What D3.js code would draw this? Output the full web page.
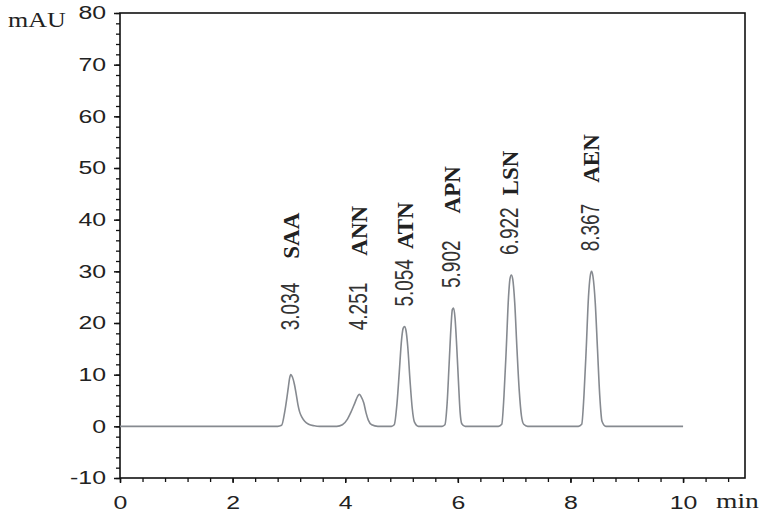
<!DOCTYPE html>
<html>
<head>
<meta charset="utf-8">
<script src="https://cdn.jsdelivr.net/npm/d3@7"></script>
<style>
  body { margin: 0; background: #fff; }
</style>
</head>
<body>
<div id="chart"></div>
<script>
// chromatogram trace: time (min) and signal (mAU)
const traceTime = [
  0, 2.80,
  2.87, 2.93, 2.99, 3.01, 3.034, 3.06, 3.10, 3.13, 3.16, 3.19, 3.23, 3.28, 3.35, 3.45, 3.55,
  3.85, 3.95, 4.04, 4.10, 4.17, 4.22, 4.251, 4.28, 4.33, 4.37, 4.41, 4.47, 4.58,
  4.82, 4.87, 4.92, 4.96, 5.00, 5.03, 5.054, 5.08, 5.11, 5.15, 5.19, 5.23, 5.30,
  5.72, 5.77, 5.81, 5.845, 5.88, 5.902, 5.925, 5.95, 5.98, 6.01, 6.04, 6.07, 6.13,
  6.72, 6.78, 6.82, 6.86, 6.90, 6.925, 6.95, 6.975, 7.01, 7.05, 7.09, 7.13, 7.17, 7.24,
  8.14, 8.20, 8.24, 8.28, 8.32, 8.35, 8.375, 8.40, 8.44, 8.48, 8.52, 8.56, 8.63,
  10
]
const traceSignal = [
  0, 0,
  0.2, 3.1, 7.6, 9.2, 10.0, 9.6, 8.0, 6.2, 4.2, 2.8, 1.8, 1.0, 0.4, 0.1, 0,
  0, 0.3, 1.4, 2.7, 4.5, 5.8, 6.2, 5.8, 4.5, 2.6, 1.2, 0.3, 0,
  0, 0.3, 4.5, 10.5, 16.7, 19.0, 19.3, 18.5, 15.5, 9.0, 3.5, 0.8, 0,
  0, 0.3, 4.5, 12.0, 19.5, 22.6, 22.9, 21.0, 15.5, 8.9, 2.8, 0.5, 0,
  0, 0.4, 6, 15, 25, 28.5, 29.3, 28.5, 24, 15, 7, 2, 0.4, 0,
  0, 0.4, 6, 15, 25, 29, 30.0, 29, 24, 15, 6, 1, 0,
  0
]

// peak annotations
const peakTimes = [3.034, 4.251, 5.054, 5.902, 6.922, 8.367]
const peakHeights = [10.0, 6.2, 19.3, 22.9, 29.3, 30.0]
const peakLabels = ["3.034", "4.251", "5.054", "5.902", "6.922", "8.367"]
const peakNames = ["SAA", "ANN", "ATN", "APN", "LSN", "AEN"]
// pixel gap between the time label and the compound name
const nameGaps = [24, 27, 10, 27, 12, 21]

// tick values
const xTicks = [0, 2, 4, 6, 8, 10]
const yTicks = [-10, 0, 10, 20, 30, 40, 50, 60, 70, 80]

const width = 762
const height = 513
const margin = {top: 13, right: 17, bottom: 35, left: 120}
const stretch = 1.38  // the picture's glyphs are wider than tall

const svg = d3.select("#chart")
  .append("svg")
  .attr("width", width)
  .attr("height", height)

const xScale = d3.scaleLinear()
  .domain([0, 11.1])
  .range([margin.left, width - margin.right])

const yScale = d3.scaleLinear()
  .domain([-10, 80])
  .range([height - margin.bottom, margin.top])

// minor ticks every 0.4 min and every 2 mAU
const xMinor = d3.range(0, 11.01, 0.4).map(d => +d.toFixed(1))
const yMinor = d3.range(-10, 80.01, 2)

svg.append("g")
  .attr("transform", `translate(0, ${yScale(-10)})`)
  .call(d3.axisBottom(xScale).tickValues(xMinor).tickSize(4).tickFormat(""))
  .call(g => g.select(".domain").remove())
  .call(g => g.selectAll("line").attr("stroke", "#111").attr("stroke-width", 1.3))

svg.append("g")
  .attr("transform", `translate(${xScale(0)}, 0)`)
  .call(d3.axisLeft(yScale).tickValues(yMinor).tickSize(4).tickFormat(""))
  .call(g => g.select(".domain").remove())
  .call(g => g.selectAll("line").attr("stroke", "#111").attr("stroke-width", 1.3))

// major axes
const xAxis = d3.axisBottom(xScale)
  .tickValues(xTicks)
  .tickSize(5)
  .tickPadding(13)
  .tickFormat(d => String(d))

const yAxis = d3.axisLeft(yScale)
  .tickValues(yTicks)
  .tickSize(6)
  .tickPadding(6)
  .tickFormat(d => String(d))

svg.append("g")
  .attr("transform", `translate(0, ${yScale(-10)})`)
  .call(xAxis)
  .call(g => g.select(".domain").remove())
  .call(g => g.selectAll("line").attr("stroke", "#111").attr("stroke-width", 1.5))
  .call(g => g.selectAll("text")
    .attr("font-family", "'Liberation Sans', Arial, sans-serif")
    .attr("font-size", 18)
    .attr("fill", "#222")
    .attr("transform", `scale(${stretch}, 1)`))

svg.append("g")
  .attr("transform", `translate(${xScale(0)}, 0)`)
  .call(yAxis)
  .call(g => g.select(".domain").remove())
  .call(g => g.selectAll("line").attr("stroke", "#111").attr("stroke-width", 1.5))
  .call(g => g.selectAll("text")
    .attr("font-family", "'Liberation Sans', Arial, sans-serif")
    .attr("font-size", 18)
    .attr("fill", "#222")
    .attr("x", -14 / stretch)
    .attr("transform", `scale(${stretch}, 1)`))

// frame
svg.append("rect")
  .attr("x", xScale(0))
  .attr("y", yScale(80))
  .attr("width", xScale(11.1) - xScale(0))
  .attr("height", yScale(-10) - yScale(80))
  .attr("fill", "none")
  .attr("stroke", "#111")
  .attr("stroke-width", 1.6)

// trace
const trace = traceTime.map((t, i) => ({t: t, v: traceSignal[i]}))

const lineGenerator = d3.line()
  .x(d => xScale(d.t))
  .y(d => yScale(d.v))
  .curve(d3.curveMonotoneX)

svg.append("path")
  .datum(trace)
  .attr("d", lineGenerator)
  .attr("fill", "none")
  .attr("stroke", "#868a90")
  .attr("stroke-width", 1.6)

// peak labels, rotated
const labelGroup = svg.append("g")

peakTimes.forEach((t, i) => {
  const x = xScale(t)
  const bottom = Math.min(yScale(peakHeights[i]) - 20, yScale(18.6))

  const num = labelGroup.append("text")
    .attr("transform", `translate(${x + 8}, ${bottom}) scale(1.35, 1) rotate(-90)`)
    .attr("font-family", "'Liberation Sans', Arial, sans-serif")
    .attr("font-size", 19)
    .attr("fill", "#333")
    .text(peakLabels[i])

  const numLength = num.node().getComputedTextLength()
  const nameBottom = bottom - numLength - nameGaps[i]

  labelGroup.append("text")
    .attr("transform", `translate(${x + 8}, ${nameBottom}) rotate(-90)`)
    .attr("font-family", "'Liberation Serif', 'Times New Roman', serif")
    .attr("font-size", 23)
    .attr("font-weight", "bold")
    .attr("fill", "#222")
    .text(peakNames[i])
})

// axis units
svg.append("text")
  .attr("transform", `translate(8, 27) scale(1.3, 1)`)
  .attr("font-family", "'Liberation Serif', 'Times New Roman', serif")
  .attr("font-size", 20)
  .attr("fill", "#222")
  .text("mAU")

svg.append("text")
  .attr("transform", `translate(716, 508) scale(1.25, 1)`)
  .attr("font-family", "'Liberation Serif', 'Times New Roman', serif")
  .attr("font-size", 22)
  .attr("fill", "#222")
  .text("min")
</script>
</body>
</html>
